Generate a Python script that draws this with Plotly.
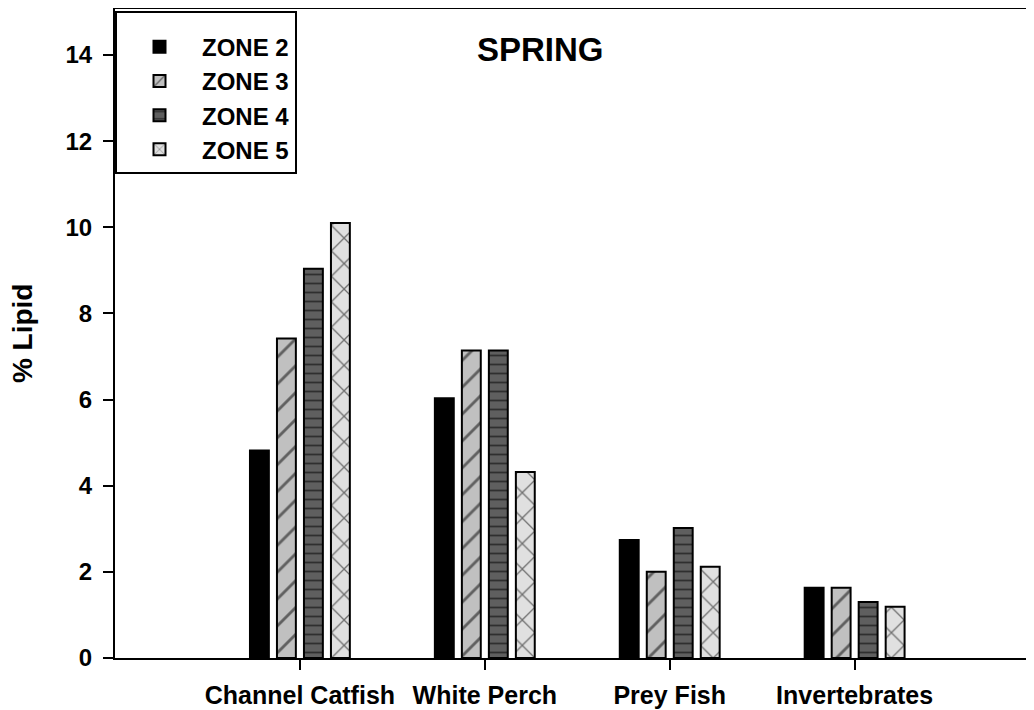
import plotly.graph_objects as go

categories = ["Channel Catfish", "White Perch", "Prey Fish", "Invertebrates"]
zone_names = ["ZONE 2", "ZONE 3", "ZONE 4", "ZONE 5"]
zone2 = [4.82, 6.03, 2.74, 1.63]
zone3 = [7.42, 7.14, 2.00, 1.63]
zone4 = [9.04, 7.14, 3.02, 1.30]
zone5 = [10.1, 4.32, 2.12, 1.19]
y_ticks = [0, 2, 4, 6, 8, 10, 12, 14]

series = [zone2, zone3, zone4, zone5]
styles = [
    dict(color="#000000", pattern=dict(shape="")),
    dict(color="#c0c0c0", pattern=dict(shape="/", fgcolor="#000000", bgcolor="#c0c0c0", size=19, solidity=0.15, fillmode="overlay")),
    dict(color="#5f5f5f", pattern=dict(shape="-", fgcolor="#000000", bgcolor="#5f5f5f", size=9, solidity=0.2, fillmode="overlay")),
    dict(color="#e0e0e0", pattern=dict(shape="x", fgcolor="#000000", bgcolor="#e0e0e0", size=18, solidity=0.14, fillmode="overlay")),
]

FONT = "Liberation Sans, Arial, sans-serif"

fig = go.Figure()
for name, vals, st in zip(zone_names, series, styles):
    fig.add_trace(go.Bar(
        x=categories, y=vals, name=name,
        marker=dict(color=st["color"], pattern=st["pattern"],
                    line=dict(color="#000000", width=2)),
    ))

# page body has an 8px default margin, so the figure is sized to fit the window
fig.update_layout(
    width=1026, height=702,
    margin=dict(l=107, r=0, t=1, b=52, autoexpand=False),
    paper_bgcolor="white", plot_bgcolor="white",
    barmode="group", bargap=0.416, bargroupgap=0.3,
    font=dict(family=FONT, size=24, color="black"),
    showlegend=True,
    legend=dict(
        x=0, y=0.997, xanchor="left", yanchor="top",
        bgcolor="white", bordercolor="black", borderwidth=2,
        font=dict(family=FONT, size=24, color="black", weight="bold"),
        itemwidth=75, tracegroupgap=0,
        title=dict(text="\u00a0", font=dict(family=FONT, size=9)),
    ),
    annotations=[
        dict(text="<b>SPRING</b>", x=0.4625, y=0.937, xref="paper", yref="paper",
             showarrow=False, font=dict(family=FONT, size=33, color="black"),
             xanchor="center", yanchor="middle"),
        dict(text="<b>% Lipid</b>", x=-0.100, y=0.5008, xref="paper", yref="paper",
             showarrow=False, textangle=-90,
             font=dict(family=FONT, size=28, color="black"),
             xanchor="center", yanchor="middle"),
    ],
)
fig.update_xaxes(
    range=[-1, 3.97], showgrid=False, zeroline=False, automargin=False,
    showline=True, linecolor="black", linewidth=2, mirror=True,
    ticks="outside", ticklen=10, tickwidth=2, tickcolor="black",
    ticklabelstandoff=4,
    tickfont=dict(family=FONT, size=25, color="black", weight="bold"),
)
fig.update_yaxes(
    range=[0, 15.07], showgrid=False, zeroline=False, automargin=False,
    tickvals=y_ticks, ticktext=[str(v) for v in y_ticks],
    showline=True, linecolor="black", linewidth=2, mirror=False,
    ticks="outside", ticklen=10, tickwidth=2, tickcolor="black",
    ticklabelstandoff=6,
    tickfont=dict(family=FONT, size=24, color="black", weight="bold"),
)

fig.write_html("out.html")
